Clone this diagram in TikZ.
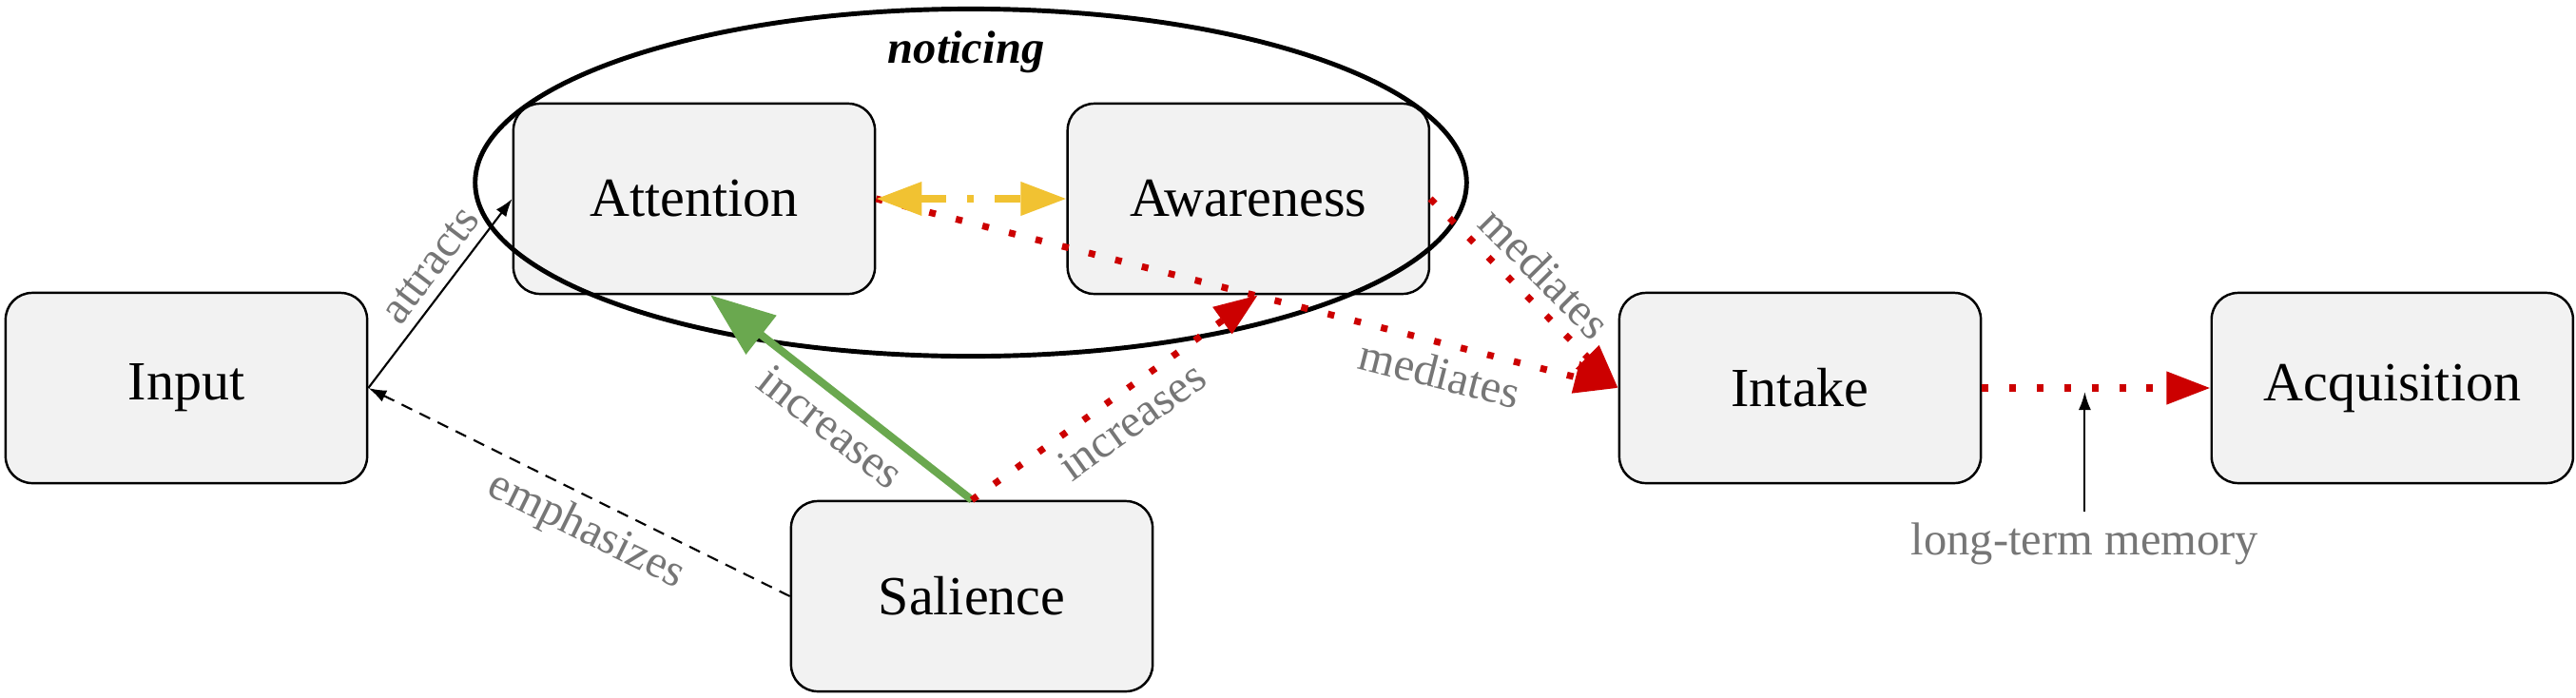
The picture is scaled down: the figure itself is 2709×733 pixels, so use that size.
\documentclass[tikz,border=0pt]{standalone}
\usepackage{fontspec}
\setmainfont{Liberation Serif}
\definecolor{boxgrey}{HTML}{F2F2F2}
\definecolor{lblgrey}{HTML}{767676}
\definecolor{notered}{HTML}{CC0000}
\definecolor{notegreen}{HTML}{6AA84F}
\definecolor{noteyellow}{HTML}{F1C232}
\usetikzlibrary{arrows.meta, shapes.geometric, positioning, calc}

\begin{document}
\begin{tikzpicture}[
    x=0.01cm, y=-0.01cm,
    node distance=10mm and 20mm,
    box/.style={rectangle, rounded corners=2.8mm, draw=black, line width=0.7pt,
                fill=boxgrey, minimum width=38mm, minimum height=20mm,
                font=\fontsize{16.5}{19}\selectfont},
    lbl/.style={text=lblgrey, font=\fontsize{13.8}{16}\selectfont, inner sep=3pt},
    plainarr/.style={-{Latex[length=1.9mm, width=1.3mm]}, line width=0.6pt},
    redarr/.style={-{Triangle[length=4.6mm, width=3.3mm]}, notered, line width=2pt,
                   dash pattern=on 2pt off 6.2pt},
    greenarr/.style={-{Triangle[length=6.8mm, width=5mm]}, notegreen, line width=2.3pt},
    yellarr/.style={{Triangle[length=4.8mm, width=3.4mm]}-{Triangle[length=4.8mm, width=3.4mm]},
                    noteyellow, line width=2pt,
                    dash pattern=on 7.7pt off 6.3pt on 2pt off 6.3pt}
  ]
  \useasboundingbox (0,0) rectangle (2709,733);
  % boxes
  \node[box] (input) at (196,408) {Input};
  \node[box] (attention) at (730,209) {Attention};
  \node[box, right=2.0cm of attention] (awareness) {Awareness};
  \node[box] (salience) at (1022,627) {Salience};
  \node[box] (intake) at (1893,408) {Intake};
  \node[box, right=2.4cm of intake] (acquisition) {Acquisition};
  % noticing
  \node[draw, ellipse, line width=1.4pt, minimum width=10.42cm,
        minimum height=3.65cm, inner sep=0pt] (notice) at (1021,192) {};
  \node[font=\fontsize{13.8}{16}\selectfont\bfseries\itshape] (noticinglbl) at (1016,55) {noticing};
  % connections
  \draw[plainarr] (input.east) -- node[lbl, sloped, above, pos=0.57] {attracts} (attention.west);
  \draw[plainarr, dash pattern=on 3.5pt off 2.5pt] (salience.west)
    -- node[lbl, sloped, below, pos=0.45] {emphasizes} (input.east);
  \draw[greenarr] (salience.north)
    -- node[lbl, sloped, below, pos=0.47] {increases} ([xshift=1.7mm]attention.south);
  \draw[redarr] (salience.north)
    -- node[lbl, sloped, below] {increases} ([xshift=1mm]awareness.south);
  \draw[redarr] (attention.east) -- node[lbl, sloped, below, pos=0.77] {mediates} (intake.west);
  \draw[redarr] (awareness.east) -- node[lbl, sloped, above, pos=0.5] {mediates} (intake.west);
  \draw[yellarr] (attention.east) -- (awareness.west);
  \draw[redarr] (intake.east) -- (acquisition.west);
  \coordinate (ltm) at ($(intake.east)!0.45!(acquisition.west)$);
  \node[lbl, below=13mm of ltm] (memory) {long-term memory};
  \draw[plainarr, shorten >=0.4mm] (memory.north) -- (ltm);
\end{tikzpicture}
\end{document}
